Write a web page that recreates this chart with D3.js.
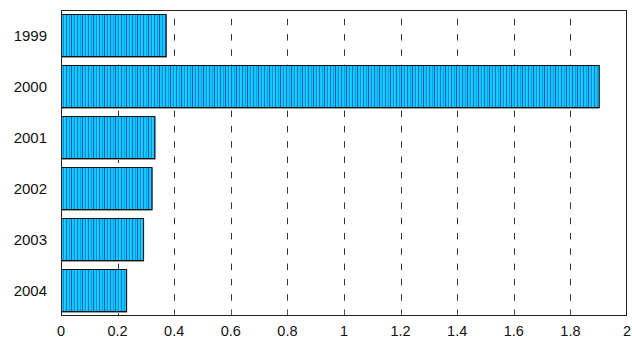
<!DOCTYPE html>
<html>
<head>
<meta charset="utf-8">
<script src="https://cdn.jsdelivr.net/npm/d3@7"></script>
<style>
  html, body { margin: 0; padding: 0; background: #fff; }
  svg { display: block; font-family: "Liberation Sans", Arial, sans-serif; }
</style>
</head>
<body>
<svg id="chart" width="632" height="339"></svg>
<script>
// Yearly values shown as horizontal bars
const years = ["1999", "2000", "2001", "2002", "2003", "2004"];
const values = [0.37, 1.90, 0.33, 0.32, 0.29, 0.23];
const xTicks = [0, 0.2, 0.4, 0.6, 0.8, 1, 1.2, 1.4, 1.6, 1.8, 2];

const W = 632, H = 339;
const m = { left: 61, right: 5, top: 10, bottom: 23 };
const svg = d3.select("#chart");

const x = d3.scaleLinear().domain([0, 2]).range([m.left, W - m.right]);
const y = d3.scaleBand().domain(years).range([m.top, H - m.bottom])
  .paddingInner(0.157).paddingOuter(0.0785);

// striped fill for the bars
const defs = svg.append("defs");
const pat = defs.append("pattern")
  .attr("id", "stripes").attr("patternUnits", "userSpaceOnUse")
  .attr("width", 11).attr("height", 10);
pat.append("rect").attr("width", 11).attr("height", 10).attr("fill", "#12c8f8");
const stripes = [
  { x: 0, w: 1, c: "#0a72d4" },
  { x: 3, w: 1, c: "#0a9ee8" },
  { x: 5, w: 1, c: "#0658c6" },
  { x: 8, w: 1, c: "#0a86dc" },
  { x: 9, w: 1, c: "#22d2fa" }
];
stripes.forEach(s => pat.append("rect").attr("x", s.x).attr("y", 0)
  .attr("width", s.w).attr("height", 10).attr("fill", s.c));

// dashed vertical gridlines
svg.append("g").selectAll("line")
  .data(xTicks.filter(t => t > 0 && t < 2))
  .join("line")
  .attr("x1", d => Math.round(x(d)) + 0.5).attr("x2", d => Math.round(x(d)) + 0.5)
  .attr("y1", H - m.bottom).attr("y2", m.top)
  .attr("stroke", "#333").attr("stroke-width", 1)
  .attr("stroke-dasharray", "6.5,8.8");

// bottom inner ticks
svg.append("g").selectAll("line")
  .data(xTicks.filter(t => t > 0 && t < 2))
  .join("line")
  .attr("x1", d => Math.round(x(d)) + 0.5).attr("x2", d => Math.round(x(d)) + 0.5)
  .attr("y1", H - m.bottom).attr("y2", H - m.bottom - 5)
  .attr("stroke", "#555");

// bars with a light drop shadow
const bars = svg.append("g");
bars.selectAll("rect.shadow")
  .data(years)
  .join("rect")
  .attr("class", "shadow")
  .attr("x", x(0) + 1)
  .attr("y", d => Math.round(y(d)) + 1)
  .attr("width", (d, i) => x(values[i]) - x(0))
  .attr("height", Math.round(y.bandwidth()))
  .attr("fill", "#9a9a9a");
bars.selectAll("rect.bar")
  .data(years)
  .join("rect")
  .attr("class", "bar")
  .attr("x", x(0) + 0.5)
  .attr("y", d => Math.round(y(d)) + 0.5)
  .attr("width", (d, i) => x(values[i]) - x(0))
  .attr("height", Math.round(y.bandwidth()) - 1)
  .attr("fill", "url(#stripes)")
  .attr("stroke", "#111").attr("stroke-width", 1);

// plot frame
svg.append("rect")
  .attr("x", m.left + 0.5).attr("y", m.top + 0.5)
  .attr("width", W - m.left - m.right - 1).attr("height", H - m.top - m.bottom - 1)
  .attr("fill", "none").attr("stroke", "#222").attr("stroke-width", 1);

// category labels
svg.append("g").selectAll("text")
  .data(years)
  .join("text")
  .attr("x", 47)
  .attr("y", d => y(d) + y.bandwidth() / 2)
  .attr("dy", "0.36em")
  .attr("text-anchor", "end")
  .attr("font-size", 15)
  .attr("fill", "#111")
  .text(d => d);

// x tick labels
svg.append("g").selectAll("text")
  .data(xTicks)
  .join("text")
  .attr("x", d => x(d))
  .attr("y", 336)
  .attr("text-anchor", "middle")
  .attr("font-size", 14.5)
  .attr("fill", "#111")
  .text(d => d3.format("")(d));
</script>
</body>
</html>
